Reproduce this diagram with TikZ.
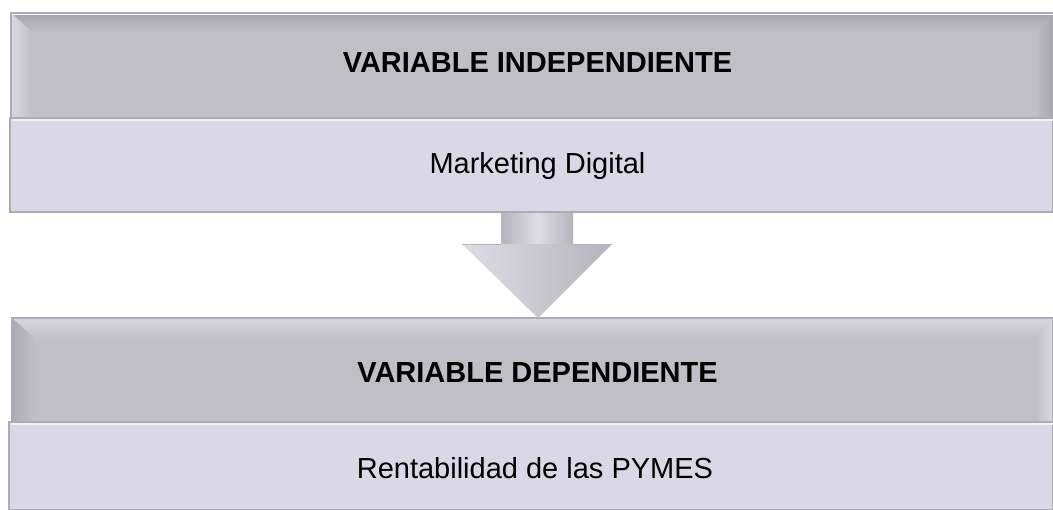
\documentclass[tikz,border=0pt]{standalone}
\usepackage{fontspec}
\setmainfont{Liberation Sans}
\usetikzlibrary{calc}
\definecolor{hdr}{HTML}{C0BFC6}
\definecolor{hdrdark}{HTML}{A6A5AB}
\definecolor{hdrlight}{HTML}{DAD9E1}
\definecolor{bodyc}{HTML}{DAD8E6}
\definecolor{edge}{HTML}{ADACB4}
\definecolor{arrlight}{HTML}{DEDDE4}
\definecolor{arrmid}{HTML}{CAC9D1}
\definecolor{arrdark}{HTML}{B5B4BC}
\begin{document}
\begin{tikzpicture}[x=0.75pt,y=-0.75pt,
  hdrbox/.style={draw=edge, line width=0.8pt, fill=hdr, inner sep=0pt, outer sep=0pt},
  bodybox/.style={draw=edge, line width=1.1pt, fill=bodyc, inner sep=0pt, outer sep=0pt},
  hdrtext/.style={anchor=base, inner sep=0pt, font=\fontsize{21.75pt}{26pt}\selectfont\bfseries},
  bodytext/.style={anchor=base, inner sep=0pt, font=\fontsize{21.75pt}{26pt}\selectfont}]
\useasboundingbox (0,0) rectangle (1053,510);
\fill[white] (0,0) rectangle (1053,510);

% top header
\node[hdrbox, minimum width=781.5pt, minimum height=78.75pt] (h1) at (532,65.5) {};
\shade[top color=hdrdark, bottom color=hdr] (h1.north west) -- (h1.north east) -- ($(h1.north east)+(-18,20)$) -- ($(h1.north west)+(22,20)$) -- cycle;
\shade[left color=hdrlight, right color=hdr] (h1.north west) -- ($(h1.north west)+(22,20)$) -- ($(h1.south west)+(22,0)$) -- (h1.south west) -- cycle;
\shade[left color=hdr, right color=hdrdark] (h1.north east) -- ($(h1.north east)+(-18,20)$) -- ($(h1.south east)+(-18,0)$) -- (h1.south east) -- cycle;
\draw[edge, line width=0.8pt] (h1.north west) rectangle (h1.south east);
\draw[white!85!hdr, line width=0.6pt] ($(h1.north west)+(1,1)$) -- ($(h1.north east)+(0,1)$);

% top body
\node[bodybox, minimum width=782.25pt, minimum height=70.5pt] (b1) at (531.5,165) {};
\draw[white!60!bodyc, line width=0.8pt] ($(b1.north west)+(2,2)$) -- ($(b1.north east)+(0,2)$);

% bottom header
\node[hdrbox, minimum width=780.75pt, minimum height=78pt] (h2) at (532.5,370) {};
\shade[top color=hdrlight, bottom color=hdr] (h2.north west) -- (h2.north east) -- ($(h2.north east)+(-18,20)$) -- ($(h2.north west)+(22,20)$) -- cycle;
\shade[left color=hdrdark!80!hdr, right color=hdr] (h2.north west) -- ($(h2.north west)+(22,20)$) -- ($(h2.south west)+(22,0)$) -- (h2.south west) -- cycle;
\shade[left color=hdr, right color=hdrlight] (h2.north east) -- ($(h2.north east)+(-18,20)$) -- ($(h2.south east)+(-18,0)$) -- (h2.south east) -- cycle;
\draw[edge, line width=0.8pt] (h2.north west) rectangle (h2.south east);

% bottom body
\node[bodybox, minimum width=783pt, minimum height=66pt] (b2) at (531,466) {};
\draw[white!60!bodyc, line width=0.8pt] ($(b2.north west)+(2,2)$) -- ($(b2.north east)+(0,2)$);

% arrow
\coordinate (as) at ($(b1.south)+(5.5,1)$);
\coordinate (ae) at ($(h2.north)+(5.5,0)$);
\shade[left color=arrdark, right color=arrdark, middle color=arrlight] ($(as)+(-36,0)$) rectangle ($(as)+(36,31)$);
\shade[left color=arrlight, right color=arrmid] ($(as)+(-75,31)$) -- ($(as)+(0,31)$) -- (ae) -- cycle;
\shade[left color=arrmid, right color=arrdark] ($(as)+(0,31)$) -- ($(as)+(75,31)$) -- (ae) -- cycle;
\draw[arrdark, line width=0.5pt] ($(as)+(-75,31)$) -- ($(as)+(-36,31)$);
\draw[arrdark, line width=0.5pt] ($(as)+(36,31)$) -- ($(as)+(75,31)$);

% texts
\node[hdrtext] (t1) at (537.5,73) {VARIABLE INDEPENDIENTE};
\node[bodytext] (t2) at (537.5,173) {Marketing Digital};
\node[hdrtext] (t3) at (537.5,382) {VARIABLE DEPENDIENTE};
\node[bodytext] (t4) at (535,478) {Rentabilidad de las PYMES};
\end{tikzpicture}
\end{document}
